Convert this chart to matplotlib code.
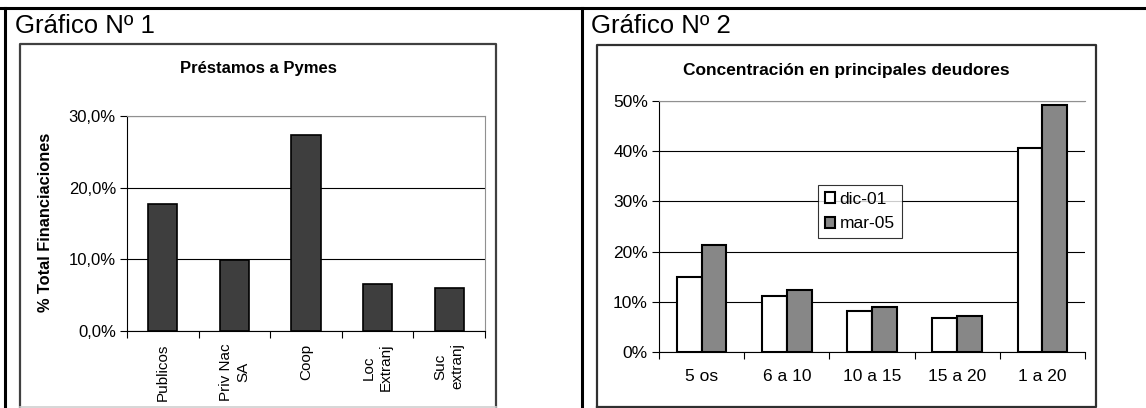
import numpy as np
import matplotlib
matplotlib.use("Agg")
import matplotlib.pyplot as plt
from matplotlib.lines import Line2D
from matplotlib.ticker import FuncFormatter, MultipleLocator

plt.rcParams['font.family'] = ['Liberation Sans', 'DejaVu Sans']

# Chart 1 data: Prestamos a Pymes
categorias_1 = ["Publicos", "Priv Nac\nSA", "Coop", "Loc\nExtranj", "Suc\nextranj"]
valores_1 = [0.177, 0.099, 0.273, 0.065, 0.060]

# Chart 2 data: concentracion en principales deudores
categorias_2 = ["5 os", "6 a 10", "10 a 15", "15 a 20", "1 a 20"]
dic_01 = [0.150, 0.111, 0.081, 0.067, 0.406]
mar_05 = [0.213, 0.123, 0.089, 0.072, 0.493]

W, H = 1146, 408
fig = plt.figure(figsize=(W / 100, H / 100), dpi=100)


def px_axes(x0, y0, x1, y1):
    # pixel box (top-left origin) -> figure axes
    return fig.add_axes([x0 / W, 1 - y1 / H, (x1 - x0) / W, (y1 - y0) / H])


def px_line(xs, ys, color="black", lw=1.0):
    fig.add_artist(Line2D([x / W for x in xs], [1 - y / H for y in ys],
                          color=color, lw=lw, transform=fig.transFigure))


def px_text(x, y, s, **kw):
    fig.text(x / W, 1 - y / H, s, **kw)


# outer table lines
px_line([0, W], [8, 8], lw=2.2)
px_line([5, 5], [8, H], lw=2.2)
px_line([582, 582], [8, H], lw=2.2)

# headings
px_text(15, 26, "Gráfico Nº 1", fontsize=18.5, va="center", ha="left")
px_text(591, 26, "Gráfico Nº 2", fontsize=18.5, va="center", ha="left")

# chart frames
px_line([20, 20, 496, 496], [407, 44, 44, 407], color="#404040", lw=1.6)
px_line([20, 496], [407, 407], color="#d0d0d0", lw=1.2)
px_line([597, 597, 1096, 1096, 597], [407, 45, 45, 407, 407], color="#303030", lw=1.6)

# ---- chart 1 ----
ax1 = px_axes(127, 116, 485, 331)
x1 = np.arange(len(categorias_1))
ax1.bar(x1, valores_1, width=0.41, color="#3e3e3e", edgecolor="black", linewidth=1.2, zorder=3)
ax1.set_xlim(-0.5, len(categorias_1) - 0.5)
ax1.set_ylim(0, 0.30)
ax1.yaxis.set_major_locator(MultipleLocator(0.10))
ax1.yaxis.set_major_formatter(FuncFormatter(lambda v, p: f"{v * 100:.1f}%".replace(".", ",")))
ax1.grid(axis="y", color="black", lw=0.8, zorder=0)
ax1.set_xticks(np.arange(-0.5, len(categorias_1), 1.0))
ax1.set_xticklabels([])
ax1.set_xticks(x1, minor=True)
ax1.set_xticklabels(categorias_1, minor=True, rotation=90, fontsize=11, ha="center", va="top",
                    linespacing=1.3)
ax1.tick_params(axis="x", which="minor", length=0, pad=9)
ax1.tick_params(axis="x", which="major", length=5, direction="out", width=0.8)
ax1.tick_params(axis="y", length=5, direction="out", labelsize=12, width=0.8, pad=3)
for s in ["top", "right"]:
    ax1.spines[s].set_color("#909090")
ax1.spines["left"].set_linewidth(0.8)
ax1.spines["bottom"].set_linewidth(0.8)
px_text(46, 222, "% Total Financiaciones", fontsize=11.8, fontweight="bold",
        rotation=90, va="center", ha="center")
px_text(258, 68, "Préstamos a Pymes", fontsize=12, fontweight="bold", ha="center", va="center")

# ---- chart 2 ----
ax2 = px_axes(659, 101, 1085, 352)
x2 = np.arange(len(categorias_2))
bw = 0.29
ax2.bar(x2 - bw / 2, dic_01, width=bw, color="white", edgecolor="black", linewidth=1.5,
        label="dic-01", zorder=3)
ax2.bar(x2 + bw / 2, mar_05, width=bw, color="#878787", edgecolor="black", linewidth=1.5,
        label="mar-05", zorder=3)
ax2.set_xlim(-0.5, len(categorias_2) - 0.5)
ax2.set_ylim(0, 0.50)
ax2.yaxis.set_major_locator(MultipleLocator(0.10))
ax2.yaxis.set_major_formatter(FuncFormatter(lambda v, p: f"{v * 100:.0f}%"))
ax2.grid(axis="y", color="black", lw=0.8, zorder=0)
ax2.set_xticks(np.arange(-0.5, len(categorias_2), 1.0))
ax2.set_xticklabels([])
ax2.set_xticks(x2, minor=True)
ax2.set_xticklabels(categorias_2, minor=True, fontsize=12.5)
ax2.tick_params(axis="x", which="minor", length=0, pad=12)
ax2.tick_params(axis="x", which="major", length=5, direction="out", width=0.8)
ax2.tick_params(axis="y", length=5, direction="out", labelsize=12.5, width=0.8, pad=3)
ax2.spines["top"].set_color("#909090")
ax2.spines["right"].set_visible(False)
ax2.spines["left"].set_linewidth(0.8)
ax2.spines["bottom"].set_linewidth(0.8)
leg = ax2.legend(loc="upper left", bbox_to_anchor=((818 - 659) / 426, (352 - 185) / 251),
                 fontsize=12.5, frameon=True, fancybox=False, edgecolor="black",
                 handlelength=0.6, handleheight=0.6, handletextpad=0.25,
                 borderpad=0.4, labelspacing=0.55, borderaxespad=0)
leg.get_frame().set_linewidth(0.8)
leg.set_zorder(5)
px_text(846, 71, "Concentración en principales deudores", fontsize=12.5, fontweight="bold",
        ha="center", va="center")

fig.savefig("out.png", dpi=100)
